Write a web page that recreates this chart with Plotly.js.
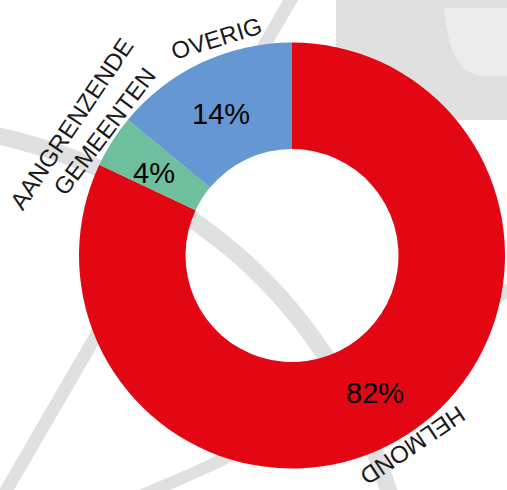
<!DOCTYPE html>
<html>
<head>
<meta charset="utf-8">
<script src="https://cdn.plot.ly/plotly-3.0.1.min.js"></script>
<style>html,body{margin:0;padding:0;background:#fff;}#chart{width:507px;height:490px;}</style>
</head>
<body>
<div id="chart"></div>
<script>
// Data
const categories = ['HELMOND', 'AANGRENZENDE GEMEENTEN', 'OVERIG'];
const values = [82, 4, 14];
const sliceColors = ['#E30613', '#6DBF9E', '#6598D2'];

const W = 507, H = 490;
const px = x => x / W;
const py = y => 1 - y / H;
function path(cmds) {
  return cmds.map(c => {
    const L = c[0];
    const pts = [];
    for (let i = 1; i < c.length; i += 2) pts.push(px(c[i]).toFixed(5) + ',' + py(c[i + 1]).toFixed(5));
    return L + ' ' + pts.join(' ');
  }).join(' ');
}
const grey = '#dfe0df';
const shapes = [
  {type: 'rect', xref: 'paper', yref: 'paper', x0: px(336), x1: px(520), y0: py(120), y1: py(-10),
   fillcolor: grey, line: {width: 0}, layer: 'below'},
  {type: 'path', xref: 'paper', yref: 'paper', layer: 'below', fillcolor: '#ececec', line: {width: 0},
   path: path([['M', 444, 8], ['L', 520, 8], ['L', 520, 76], ['L', 485, 76], ['C', 458, 76, 448, 50, 444, 8], ['Z']])},
  {type: 'path', xref: 'paper', yref: 'paper', layer: 'below', line: {color: grey, width: 13},
   path: path([['M', 293, -4], ['L', 3, 496]])},
  {type: 'path', xref: 'paper', yref: 'paper', layer: 'below', line: {color: grey, width: 17},
   path: path([['M', -5, 135], ['C', 150, 170, 320, 270, 390, 495]])},
  {type: 'path', xref: 'paper', yref: 'paper', layer: 'below', line: {color: grey, width: 12},
   path: path([['M', 130, 500], ['Q', 330, 420, 515, 285]])}
];

// Pie geometry (pixels)
const cx = 292, cy = 255.5, R = 213, holeFrac = 0.5;

// Outside category labels (pixel centers, rotation); multi-line labels split on spaces
const labelFont = {family: 'Liberation Sans, Arial, sans-serif', size: 24, color: '#1a1a1a'};
const labelPlacement = [
  [{x: 413, y: 446, a: 146}],
  [{x: 72, y: 124, a: -56}, {x: 104, y: 131, a: -53}],
  [{x: 216, y: 39, a: -17}]
];
const annotations = [];
categories.forEach((cat, i) => {
  const lines = labelPlacement[i].length > 1 ? cat.split(' ') : [cat];
  lines.forEach((t, j) => {
    const p = labelPlacement[i][j];
    annotations.push({xref: 'paper', yref: 'paper', x: px(p.x), y: py(p.y), text: t,
      showarrow: false, textangle: p.a, xanchor: 'center', yanchor: 'middle', font: labelFont});
  });
});

// Percentage labels at the middle of each ring segment, derived from the values
const total = values.reduce((a, b) => a + b, 0);
let cum = 0;
const rMid = R * (1 + holeFrac) / 2;
values.forEach(v => {
  const mid = (cum + v / 2) / total * 2 * Math.PI; // clockwise from 12 o'clock
  cum += v;
  const x = cx + rMid * Math.sin(mid) - 3;
  const y = cy - rMid * Math.cos(mid) + 3;
  annotations.push({xref: 'paper', yref: 'paper', x: px(x), y: py(y),
    text: Math.round(v / total * 100) + '%', showarrow: false, xanchor: 'center', yanchor: 'middle',
    font: {family: 'Liberation Sans, Arial, sans-serif', size: 29, color: '#000'}});
});

const trace = {
  type: 'pie',
  labels: categories,
  values: values,
  hole: holeFrac,
  sort: false,
  direction: 'clockwise',
  rotation: 0,
  marker: {colors: sliceColors, line: {width: 0}},
  textinfo: 'none',
  domain: {x: [px(cx - R), px(cx + R)], y: [py(cy + R), py(cy - R)]},
  showlegend: false,
  hoverinfo: 'label+percent'
};

const layout = {
  width: W, height: H,
  margin: {l: 0, r: 0, t: 0, b: 0},
  paper_bgcolor: '#ffffff',
  showlegend: false,
  shapes: shapes,
  annotations: annotations
};

Plotly.newPlot('chart', [trace], layout, {displayModeBar: false, staticPlot: true});
</script>
</body>
</html>
